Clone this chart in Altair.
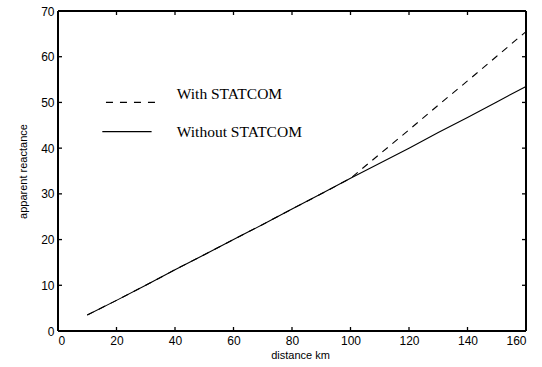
import altair as alt
import pandas as pd

# distance along the line (km)
distance = [10, 20, 30, 40, 50, 60, 70, 80, 90, 100, 110, 120, 130, 140, 150, 160]
# apparent reactance seen by the relay
without_statcom = [3.5, 6.7, 10.0, 13.4, 16.7, 20.0, 23.3, 26.7, 30.0, 33.4, 36.7, 40.0, 43.4, 46.7, 50.1, 53.5]
with_statcom = [3.5, 6.7, 10.0, 13.4, 16.7, 20.0, 23.3, 26.7, 30.0, 33.4, 38.7, 44.0, 49.4, 54.7, 60.1, 65.5]

x_ticks = [0, 20, 40, 60, 80, 100, 120, 140, 160]
y_ticks = [0, 10, 20, 30, 40, 50, 60, 70]

legend_labels = ["With STATCOM", "Without STATCOM"]

df = pd.DataFrame({
    "distance": distance,
    "without": without_statcom,
    "with": with_statcom,
})
xt = pd.DataFrame({"t": x_ticks})
yt = pd.DataFrame({"t": y_ticks})
one = pd.DataFrame({"k": [0]})

W, H = 468, 320
TICK = 4
LABEL_FONT = "Liberation Sans"
SERIF = "Liberation Serif"

xs = alt.Scale(domain=[0, 160], nice=False)
ys = alt.Scale(domain=[0, 70], nice=False)
X_TITLE = "distance km"
Y_TITLE = "apparent reactance"

x_axis = alt.Axis(values=x_ticks, ticks=False, domain=False, grid=False,
                  labelFont=LABEL_FONT, labelFontSize=12, labelColor="black",
                  labelPadding=4, titleFont=LABEL_FONT, titleFontSize=11,
                  titleFontWeight="normal", titleColor="black", titlePadding=3,
                  titleX=242)
y_axis = alt.Axis(values=y_ticks, ticks=False, domain=False, grid=False,
                  labelFont=LABEL_FONT, labelFontSize=12, labelColor="black",
                  labelPadding=4, titleFont=LABEL_FONT, titleFontSize=11,
                  titleFontWeight="normal", titleColor="black", titlePadding=12)


def X(field=None, datum=None):
    if datum is not None:
        return alt.X(datum=datum, scale=xs, axis=x_axis, title=X_TITLE)
    return alt.X(field, scale=xs, axis=x_axis, title=X_TITLE)


def Y(field=None, datum=None):
    if datum is not None:
        return alt.Y(datum=datum, scale=ys, axis=y_axis, title=Y_TITLE)
    return alt.Y(field, scale=ys, axis=y_axis, title=Y_TITLE)


solid = alt.Chart(df).mark_line(color="black", strokeWidth=1.1).encode(
    x=X("distance:Q"), y=Y("without:Q"))

dashed = alt.Chart(df).mark_line(color="black", strokeWidth=1.1, strokeDash=[7, 6]).encode(
    x=X("distance:Q"), y=Y("with:Q"))

# inward tick marks on all four sides of the frame
tick_style = dict(stroke="#000000", strokeOpacity=1, opacity=1, strokeWidth=1.3)
bx = alt.Chart(xt).mark_rule(**tick_style).encode(
    x=X("t:Q"), y=alt.value(H), y2=alt.value(H - TICK))
tx = alt.Chart(xt).mark_rule(**tick_style).encode(
    x=X("t:Q"), y=alt.value(0), y2=alt.value(TICK))
ly = alt.Chart(yt).mark_rule(**tick_style).encode(
    y=Y("t:Q"), x=alt.value(0), x2=alt.value(TICK))
ry = alt.Chart(yt).mark_rule(**tick_style).encode(
    y=Y("t:Q"), x=alt.value(W), x2=alt.value(W - TICK))

# plot frame
frame_style = dict(stroke="#000000", strokeOpacity=1, opacity=1, strokeWidth=2)
f_bottom = alt.Chart(one).mark_rule(**frame_style).encode(
    x=alt.value(0), x2=alt.value(W), y=alt.value(H))
f_top = alt.Chart(one).mark_rule(**frame_style).encode(
    x=alt.value(0), x2=alt.value(W), y=alt.value(0))
f_left = alt.Chart(one).mark_rule(**frame_style).encode(
    y=alt.value(0), y2=alt.value(H), x=alt.value(0))
f_right = alt.Chart(one).mark_rule(**frame_style).encode(
    y=alt.value(0), y2=alt.value(H), x=alt.value(W))

# legend drawn inside the plot area
leg_dash = alt.Chart(one).mark_rule(color="black", strokeWidth=1.3, strokeDash=[7, 7]).encode(
    x=X(datum=16.4), x2=alt.datum(33.2), y=Y(datum=50.0))
leg_solid = alt.Chart(one).mark_rule(color="black", strokeWidth=1.3).encode(
    x=X(datum=15.15), x2=alt.datum(32.0), y=Y(datum=43.6))
leg_text1 = alt.Chart(one).mark_text(text=legend_labels[0], font=SERIF, fontSize=15.5,
                                     align="left", baseline="middle", color="black").encode(
    x=X(datum=40.6), y=Y(datum=51.85))
leg_text2 = alt.Chart(one).mark_text(text=legend_labels[1], font=SERIF, fontSize=15.5,
                                     align="left", baseline="middle", color="black").encode(
    x=X(datum=40.6), y=Y(datum=43.6))

chart = alt.layer(
    solid, dashed, bx, tx, ly, ry, f_bottom, f_top, f_left, f_right,
    leg_dash, leg_solid, leg_text1, leg_text2
).properties(
    width=W, height=H,
    autosize=alt.AutoSizeParams(type="none"),
    padding={"left": 58, "top": 11, "right": 16, "bottom": 36},
).configure_view(strokeWidth=0)

chart.save("out.html", embed_options={"renderer": "svg", "actions": False})
